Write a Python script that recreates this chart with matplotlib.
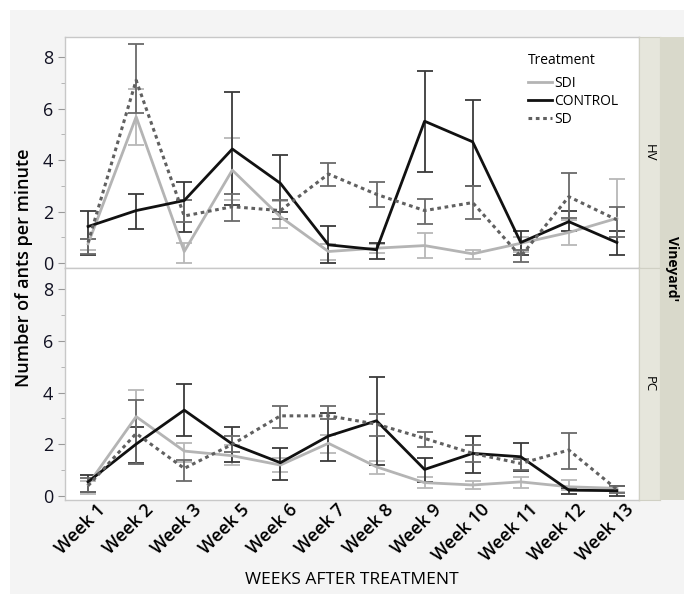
import numpy as np
import matplotlib.pyplot as plt
import matplotlib.transforms as mtransforms
from matplotlib.patches import Rectangle

plt.rcParams['font.family'] = ['Open Sans', 'DejaVu Sans']

weeks = ['Week 1', 'Week 2', 'Week 3', 'Week 5', 'Week 6', 'Week 7',
         'Week 8', 'Week 9', 'Week 10', 'Week 11', 'Week 12', 'Week 13']

# HV vineyard
hv_sdi = [0.75, 5.68, 0.45, 3.61, 1.80, 0.45, 0.58, 0.68, 0.36, 0.77, 1.19, 1.74]
hv_sdi_lo = [0.50, 4.58, 0.00, 2.45, 1.35, 0.13, 0.40, 0.19, 0.15, 0.45, 0.71, 1.00]
hv_sdi_hi = [0.95, 6.77, 0.77, 4.84, 2.40, 0.75, 0.75, 1.16, 0.49, 1.00, 1.68, 3.25]

hv_ctl = [1.42, 2.04, 2.43, 4.43, 3.10, 0.71, 0.52, 5.51, 4.71, 0.80, 1.61, 0.80]
hv_ctl_lo = [0.30, 1.32, 1.19, 2.26, 2.00, 0.00, 0.15, 3.54, 2.99, 0.32, 1.23, 0.32]
hv_ctl_hi = [2.04, 2.68, 3.16, 6.65, 4.18, 1.45, 0.80, 7.45, 6.35, 1.23, 2.04, 1.26]

hv_sd = [0.80, 7.10, 1.83, 2.19, 2.04, 3.46, 2.67, 2.04, 2.35, 0.26, 2.58, 1.68]
hv_sd_lo = [0.35, 5.81, 1.60, 1.65, 1.70, 3.00, 2.19, 1.52, 1.72, 0.06, 1.74, 1.00]
hv_sd_hi = [0.95, 8.49, 2.45, 2.68, 2.45, 3.90, 3.16, 2.48, 2.99, 0.52, 3.48, 2.17]

# PC vineyard
pc_sdi = [0.45, 3.07, 1.74, 1.56, 1.20, 2.04, 1.13, 0.52, 0.43, 0.55, 0.36, 0.30]
pc_sdi_lo = [0.10, 1.25, 1.33, 1.20, 0.95, 1.68, 0.85, 0.30, 0.26, 0.30, 0.23, 0.15]
pc_sdi_hi = [0.60, 4.10, 2.06, 1.97, 1.46, 2.36, 1.35, 0.72, 0.59, 0.72, 0.62, 0.40]

pc_ctl = [0.55, 2.01, 3.32, 2.01, 1.29, 2.32, 2.91, 1.03, 1.65, 1.52, 0.23, 0.21]
pc_ctl_lo = [0.17, 1.29, 2.33, 1.33, 0.64, 1.37, 1.20, 0.55, 0.91, 0.97, 0.10, 0.00]
pc_ctl_hi = [0.81, 2.68, 4.32, 2.68, 1.84, 3.22, 4.59, 1.46, 2.33, 2.05, 0.30, 0.39]

pc_sd = [0.40, 2.42, 1.07, 2.00, 3.10, 3.10, 2.78, 2.23, 1.65, 1.26, 1.78, 0.26]
pc_sd_lo = [0.15, 1.24, 0.59, 1.71, 2.62, 2.98, 2.33, 1.91, 1.33, 1.00, 1.04, 0.13]
pc_sd_hi = [0.70, 3.71, 1.39, 2.33, 3.48, 3.48, 3.17, 2.49, 1.97, 1.42, 2.42, 0.39]

W, H = 684, 594
fig = plt.figure(figsize=(W / 100, H / 100), dpi=100)
fig.patch.set_facecolor('white')

def fx(px):
    return px / W

def fy(py):
    return 1 - py / H

# gray report background
fig.patches.append(Rectangle((fx(10), 0), 1 - fx(10), fy(10), transform=fig.transFigure,
                             facecolor='#f4f4f4', edgecolor='none', zorder=-10))

x = np.arange(len(weeks))
styles = {
    'SDI': dict(color='#b4b4b4', ls='-', lw=2.0, ecolor='#b8b8b8'),
    'CONTROL': dict(color='#111111', ls='-', lw=2.0, ecolor='#3a3a3a'),
    'SD': dict(color='#606060', ls=(0, (1.2, 1.2)), lw=2.2, ecolor='#6a6a6a'),
}

def draw(ax, series):
    for name, (m, lo, hi) in series.items():
        st = styles[name]
        m = np.array(m)
        err = [m - np.array(lo), np.array(hi) - m]
        ax.errorbar(x, m, yerr=err, fmt='none', ecolor=st['ecolor'], elinewidth=1.3,
                    capsize=6, capthick=1.3, zorder=2)
        ax.plot(x, m, color=st['color'], ls=st['ls'], lw=st['lw'], label=name, zorder=3)

L, R = 65, 639
panels = [
    (37, 268, -0.19, 8.78, {'SDI': (hv_sdi, hv_sdi_lo, hv_sdi_hi),
                            'CONTROL': (hv_ctl, hv_ctl_lo, hv_ctl_hi),
                            'SD': (hv_sd, hv_sd_lo, hv_sd_hi)}, 'HV'),
    (268, 500, -0.15, 8.81, {'SDI': (pc_sdi, pc_sdi_lo, pc_sdi_hi),
                             'CONTROL': (pc_ctl, pc_ctl_lo, pc_ctl_hi),
                             'SD': (pc_sd, pc_sd_lo, pc_sd_hi)}, 'PC'),
]

axes = []
for top, bot, y0, y1, series, strip in panels:
    ax = fig.add_axes([fx(L), fy(bot), fx(R) - fx(L), fy(top) - fy(bot)])
    ax.set_facecolor('white')
    draw(ax, series)
    ax.set_xlim(-0.48, 11.46)
    ax.set_ylim(y0, y1)
    ax.set_yticks([0, 2, 4, 6, 8])
    ax.set_yticks(range(0, 9), minor=True)
    ax.tick_params(axis='y', labelsize=13, colors='#999999', labelcolor='#111122', length=5)
    ax.tick_params(axis='y', which='minor', colors='#aaaaaa', length=3)
    ax.tick_params(axis='x', length=0)
    for s in ax.spines.values():
        s.set_color('#c8c8c8')
        s.set_linewidth(1.0)
    # strip
    sax = fig.add_axes([fx(R), fy(bot), fx(660) - fx(R), fy(top) - fy(bot)])
    sax.set_facecolor('#e6e6dc')
    sax.set_xticks([])
    sax.set_yticks([])
    for s in sax.spines.values():
        s.set_color('#d0d0c4')
    sax.text(0.5, 0.5, strip, rotation=270, ha='center', va='center', fontsize=9.5,
             transform=sax.transAxes)
    axes.append(ax)

axes[0].set_xticks(x)
axes[0].set_xticklabels([])
axes[1].set_xticks(x)
axes[1].set_xticklabels(weeks, rotation=45, ha='right', va='top', rotation_mode='anchor',
                        fontsize=13, fontweight='semibold')
shift = mtransforms.ScaledTranslation(8 / 100, 4 / 100, fig.dpi_scale_trans)
for lab in axes[1].get_xticklabels():
    lab.set_transform(lab.get_transform() + shift)

vax = fig.add_axes([fx(660), fy(500), 1 - fx(660), fy(37) - fy(500)])
vax.set_facecolor('#d9d9cb')
vax.set_xticks([])
vax.set_yticks([])
for s in vax.spines.values():
    s.set_visible(False)
vax.text(0.5, 0.5, "Vineyard'", rotation=270, ha='center', va='center', fontsize=10,
         fontweight='bold', transform=vax.transAxes)

leg = axes[0].legend(title='Treatment', loc='upper right', bbox_to_anchor=(0.985, 0.985),
                     frameon=False, fontsize=10, title_fontsize=10, handlelength=1.7,
                     handletextpad=0.15, labelspacing=0.2)
leg._legend_box.align = 'left'
leg._legend_box.sep = 6

fig.text(fx(24), fy(268), 'Number of ants per minute', rotation=90, ha='center', va='center',
         fontsize=13, fontweight='semibold')
fig.text(fx(352), fy(580), 'WEEKS AFTER TREATMENT', ha='center', va='center', fontsize=12.5)

fig.savefig('out.png', dpi=100)
